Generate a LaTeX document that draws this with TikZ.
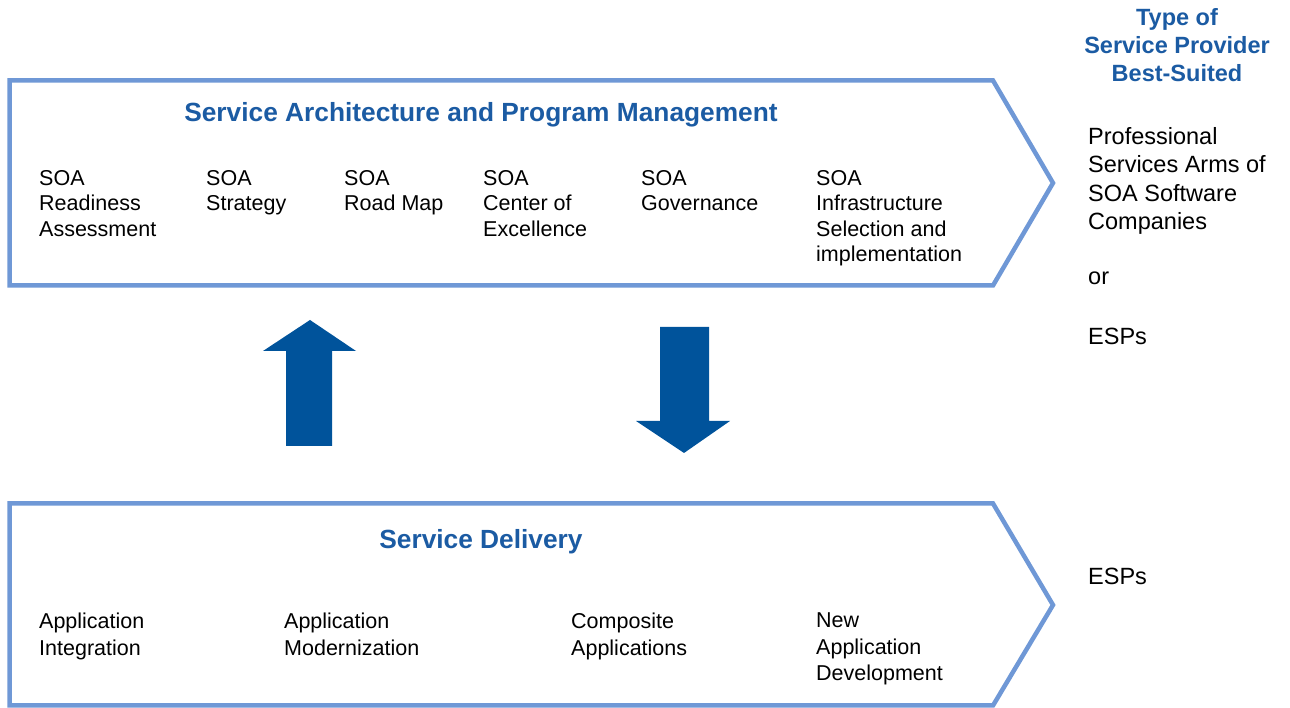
\documentclass[tikz,border=0pt]{standalone}
\usepackage{fontspec}
\setmainfont{Liberation Sans}
\definecolor{outline}{HTML}{6F98D6}
\definecolor{darkblue}{HTML}{00539B}
\definecolor{titleblue}{HTML}{1B5BA3}
\begin{document}
\begin{tikzpicture}[x=1pt,y=1pt,
  chevron/.style={draw=outline,line width=4.5pt,line join=miter},
  bigarrow/.style={fill=darkblue,draw=none},
  item/.style={anchor=north west,inner sep=0pt,align=left,font=\fontsize{21.5}{25.5}\selectfont},
  itemlow/.style={item,font=\fontsize{21.5}{26.5}\selectfont},
  ttl/.style={anchor=base,inner sep=0pt,text=titleblue,font=\fontsize{26.3}{30}\selectfont\bfseries},
  side/.style={anchor=base west,inner sep=0pt,align=left,font=\fontsize{23.5}{28.5}\selectfont},
  sidebox/.style={anchor=north west,inner sep=0pt,align=left,font=\fontsize{23.5}{28.5}\selectfont},
  hdr/.style={anchor=north,inner sep=0pt,align=center,text=titleblue,font=\fontsize{23.5}{28}\selectfont\bfseries}]
\useasboundingbox (0,0) rectangle (1290,708);
% chevrons
\draw[chevron] (9.5,627.5) -- (993,627.5) -- (1053,525) -- (993,422.5) -- (9.5,422.5) -- cycle;
\draw[chevron] (9.5,204.5) -- (993,204.5) -- (1053,103) -- (993,2.5) -- (9.5,2.5) -- cycle;
% block arrows
\fill[bigarrow] (310,388) -- (356,357) -- (332,357) -- (332,262) -- (286,262) -- (286,357) -- (263,357) -- cycle;
\fill[bigarrow] (684,255) -- (730,287) -- (709,287) -- (709,381) -- (660,381) -- (660,287) -- (636,287) -- cycle;
% titles
\node[ttl] (t1) at (481,586) {Service Architecture and Program Management};
\node[ttl] (t2) at (481,159.5) {Service Delivery};
% top items
\node[item] (a1) at (39,538) {SOA\\Readiness\\Assessment};
\node[item] (a2) at (206,538) {SOA\\Strategy};
\node[item] (a3) at (344,538) {SOA\\Road Map};
\node[item] (a4) at (483,538) {SOA\\Center of\\Excellence};
\node[item] (a5) at (641,538) {SOA\\Governance};
\node[item] (a6) at (816,538) {SOA\\Infrastructure\\Selection and\\implementation};
% bottom items
\node[itemlow] (b1) at (39,95) {Application\\Integration};
\node[itemlow] (b2) at (284,95) {Application\\Modernization};
\node[itemlow] (b3) at (571,95) {Composite\\Applications};
\node[itemlow] (b4) at (816,95) {New\\Application\\Development};
% right side
\node[hdr] (h) at (1177,700) {Type of\\Service Provider\\Best-Suited};
\node[sidebox] (p) at (1088,581) {Professional\\Services Arms of\\SOA Software\\Companies};
\node[side] (or) at (1088,423) {or};
\node[side] (e1) at (1088,363.5) {ESPs};
\node[side] (e2) at (1088,123.5) {ESPs};
\end{tikzpicture}
\end{document}
